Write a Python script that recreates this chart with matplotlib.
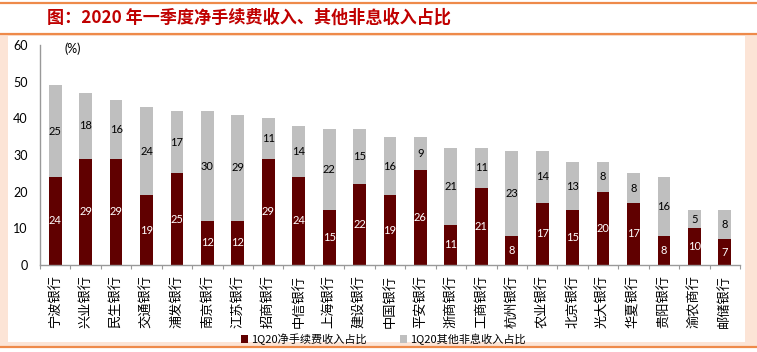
import numpy as np
import matplotlib
matplotlib.use('Agg')
import matplotlib.pyplot as plt
from matplotlib.patches import Rectangle, Patch
from matplotlib.lines import Line2D

plt.rcParams['font.family'] = ['Lato', 'Noto Sans CJK SC', 'DejaVu Sans']

banks = ['宁波银行', '兴业银行', '民生银行', '交通银行', '浦发银行', '南京银行',
         '江苏银行', '招商银行', '中信银行', '上海银行', '建设银行', '中国银行',
         '平安银行', '浙商银行', '工商银行', '杭州银行', '农业银行', '北京银行',
         '光大银行', '华夏银行', '贵阳银行', '渝农商行', '邮储银行']
fee_share = [24, 29, 29, 19, 25, 12, 12, 29, 24, 15, 22, 19,
             26, 11, 21, 8, 17, 15, 20, 17, 8, 10, 7]
other_share = [25, 18, 16, 24, 17, 30, 29, 11, 14, 22, 15, 16,
               9, 21, 11, 23, 14, 13, 8, 8, 16, 5, 8]
series_names = ['1Q20净手续费收入占比', '1Q20其他非息收入占比']
title = '图：2020 年一季度净手续费收入、其他非息收入占比'

W, H = 757, 352
MAROON = '#600000'
GREY = '#bfbfbf'
ORANGE = '#ee8a4a'
PEACH = '#fce4d6'

fig = plt.figure(figsize=(W / 100, H / 100), dpi=100)


def px(x, y):
    # pixel coords (top-left origin) -> figure fraction
    return x / W, 1 - y / H


# frame: peach border, white panel, orange rules
x0, y0 = px(0, 346)
fig.patches.append(Rectangle((x0, y0), 1, 312 / H, transform=fig.transFigure,
                             facecolor=PEACH, edgecolor='none', zorder=-3))
x0, y0 = px(8, 342)
fig.patches.append(Rectangle((x0, y0), 737 / W, 306 / H, transform=fig.transFigure,
                             facecolor='white', edgecolor='none', zorder=-2))
for yy in (3, 33.5, 347):
    fig.add_artist(Line2D([0, 1], [1 - yy / H] * 2, transform=fig.transFigure,
                          color=ORANGE, lw=1.6))

fig.text(47 / W, 1 - 18 / H, title, color='#c00000', fontsize=12.3,
         fontweight='bold', va='center', ha='left',
         family=['Noto Sans CJK SC', 'DejaVu Sans'])

# axes
left, right, top, bottom = 40, 740, 45, 265
ax = fig.add_axes([left / W, 1 - bottom / H, (right - left) / W, (bottom - top) / H])
ax.set_facecolor('none')
ax.set_zorder(1)

x = np.arange(len(banks))
fee = np.array(fee_share)
other = np.array(other_share)
ax.bar(x, fee, width=0.42, color=MAROON, label=series_names[0], zorder=2)
ax.bar(x, other, width=0.42, bottom=fee, color=GREY, label=series_names[1], zorder=2)

for xi, f, o in zip(x, fee, other):
    ax.text(xi, f / 2, f'{f}', ha='center', va='center', color='white', fontsize=8)
    ax.text(xi, f + o / 2, f'{o}', ha='center', va='center', color='black', fontsize=8)

ax.set_xlim(-0.5, len(banks) - 0.5)
ax.set_ylim(0, 60)
ax.set_yticks(range(0, 61, 10))
ax.tick_params(axis='y', length=0, pad=9, labelsize=9)
ax.set_xticks(x)
ax.set_xticklabels(banks, rotation=90, fontsize=9.5,
                   family=['Noto Sans CJK SC', 'DejaVu Sans'])
ax.tick_params(axis='x', which='major', length=0, pad=7)
ax.set_xticks(np.arange(-0.5, len(banks), 1), minor=True)
ax.tick_params(axis='x', which='minor', length=3, color='#999999', width=0.8)

for s in ('top', 'right'):
    ax.spines[s].set_visible(False)
for s in ('left', 'bottom'):
    ax.spines[s].set_color('#999999')
    ax.spines[s].set_linewidth(1.0)

ax.text(0.035, 59, '(%)', fontsize=9, ha='left', va='center',
        transform=ax.get_yaxis_transform())

handles = [Patch(facecolor=MAROON), Patch(facecolor=GREY)]
fig.legend(handles, series_names, loc='center', bbox_to_anchor=(383 / W, 1 - 339 / H),
           ncol=2, frameon=False, handlelength=0.7, handleheight=0.7,
           handletextpad=0.2, columnspacing=3.0,
           prop={'family': ['Noto Sans CJK SC', 'DejaVu Sans'], 'size': 8})

fig.savefig('out.png', dpi=100)
